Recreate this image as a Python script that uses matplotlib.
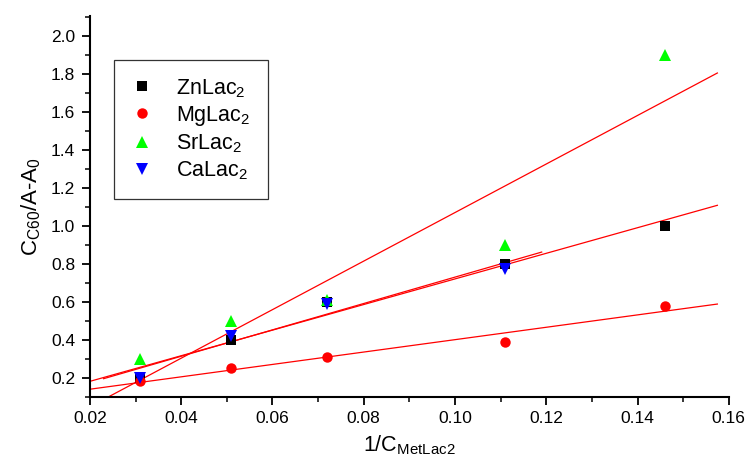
import numpy as np
import matplotlib
matplotlib.use('Agg')
import matplotlib.pyplot as plt
from matplotlib.ticker import MultipleLocator

plt.rcParams['font.family'] = ['Liberation Sans', 'DejaVu Sans']
plt.rcParams['mathtext.fontset'] = 'custom'
plt.rcParams['mathtext.rm'] = 'Liberation Sans'
plt.rcParams['mathtext.it'] = 'Liberation Sans'

# data
x_zn = [0.031, 0.051, 0.072, 0.111, 0.146]
y_zn = [0.20, 0.40, 0.60, 0.80, 1.00]
x_mg = [0.031, 0.051, 0.072, 0.111, 0.146]
y_mg = [0.18, 0.25, 0.31, 0.39, 0.58]
x_sr = [0.031, 0.051, 0.072, 0.111, 0.146]
y_sr = [0.30, 0.50, 0.61, 0.90, 1.90]
x_ca = [0.031, 0.051, 0.072, 0.111]
y_ca = [0.20, 0.42, 0.59, 0.77]
labels = [r'ZnLac$_2$', r'MgLac$_2$', r'SrLac$_2$', r'CaLac$_2$']

fig = plt.figure(figsize=(7.49, 4.58), dpi=100)
ax = fig.add_axes([0.120, 0.134, 0.853, 0.831])

series = [(x_zn, y_zn, 's', 'black', 7),
          (x_mg, y_mg, 'o', 'red', 7.5),
          (x_sr, y_sr, '^', '#00ff00', 8.5),
          (x_ca, y_ca, 'v', 'blue', 8.5)]

# linear fits, drawn a bit past the data range like Origin does
for xs, ys, m, c, ms in series:
    xs = np.array(xs)
    k, b = np.polyfit(xs, ys, 1)
    pad = 0.1 * (xs.max() - xs.min())
    xl = np.array([xs.min() - pad, xs.max() + pad])
    ax.plot(xl, k * xl + b, color='red', lw=0.9, zorder=2)

for (xs, ys, m, c, ms), lab in zip(series, labels):
    ax.plot(xs, ys, ls='none', marker=m, color=c, markersize=ms,
            markeredgewidth=0, label=lab, zorder=3)

ax.set_xlim(0.02, 0.16)
ax.set_ylim(0.1, 2.105)
ax.xaxis.set_major_locator(MultipleLocator(0.02))
ax.xaxis.set_minor_locator(MultipleLocator(0.01))
ax.yaxis.set_major_locator(MultipleLocator(0.2))
ax.yaxis.set_minor_locator(MultipleLocator(0.1))
ax.set_yticks(np.arange(0.2, 2.01, 0.2))
ax.set_xticklabels(['%.2f' % v for v in ax.get_xticks()])
ax.set_yticklabels(['%.1f' % v for v in ax.get_yticks()])

ax.spines['top'].set_visible(False)
ax.spines['right'].set_visible(False)
ax.spines['left'].set_linewidth(1.5)
ax.spines['bottom'].set_linewidth(1.5)
ax.tick_params(which='major', direction='out', length=5.5, width=1.3,
               labelsize=12.5, pad=5)
ax.tick_params(which='minor', direction='out', length=3.5, width=1.1)

ax.set_xlabel(r'1/C$_{\mathrm{MetLac2}}$', fontsize=15.5, labelpad=5)
ax.set_ylabel(r'C$_{\mathrm{C60}}$/A-A$_0$', fontsize=16, labelpad=6)

leg = ax.legend(loc='upper left', bbox_to_anchor=(0.0376, 0.885), fontsize=15.5,
                frameon=True, fancybox=False, edgecolor='black',
                borderpad=0.8, handletextpad=1.1, labelspacing=0.2,
                handlelength=1.0, borderaxespad=0)
leg.get_frame().set_linewidth(0.9)

fig.savefig('out.png', dpi=100)
